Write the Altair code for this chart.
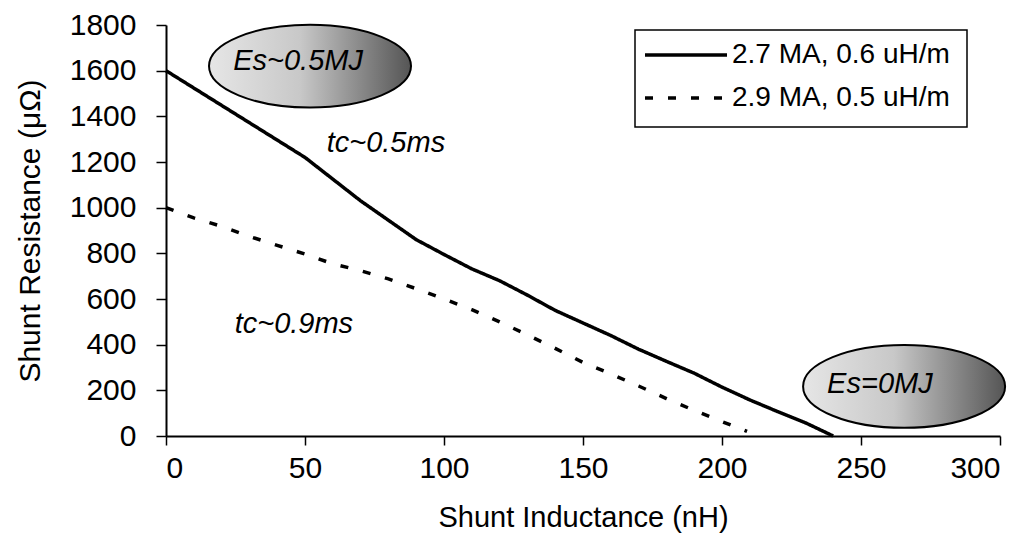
import altair as alt
import pandas as pd

# ---- data ----
series_names = ["2.7 MA, 0.6 uH/m", "2.9 MA, 0.5 uH/m"]

inductance_a = [0, 50, 60, 70, 80, 90, 100, 110, 120, 130, 140, 150, 160, 170,
                180, 190, 200, 210, 220, 230, 240]
resistance_a = [1600, 1220, 1125, 1030, 945, 860, 795, 732, 680, 617, 550, 495,
                440, 380, 327, 275, 214, 158, 107, 58, 0]

inductance_b = [0, 10, 20, 30, 40, 50, 60, 70, 80, 90, 100, 110, 120, 130, 140,
                150, 160, 170, 180, 190, 200, 209]
resistance_b = [1000, 955, 918, 874, 835, 797, 754, 724, 688, 645, 600, 553, 500,
                443, 384, 322, 272, 219, 164, 112, 63, 20]

x_ticks = [0, 50, 100, 150, 200, 250, 300]
y_ticks = [0, 200, 400, 600, 800, 1000, 1200, 1400, 1600, 1800]

ellipse_x = [51.8, 265.5]
ellipse_y = [1620, 217]
ellipse_text = ["Es~0.5MJ", "Es=0MJ"]
ellipse_text_x = [47.5, 256.8]
ellipse_text_y = [1643, 228]

note_text = ["tc~0.5ms", "tc~0.9ms"]
note_x = [79.1, 46.0]
note_y = [1283, 490]

FONT = "Liberation Sans"

rows = []
for xv, yv in zip(inductance_a, resistance_a):
    rows.append({"L": xv, "R": yv, "series": series_names[0]})
for xv, yv in zip(inductance_b, resistance_b):
    rows.append({"L": xv, "R": yv, "series": series_names[1]})
lines_df = pd.DataFrame(rows)

x_scale = alt.Scale(domain=[0, 300], nice=False, zero=False)
y_scale = alt.Scale(domain=[0, 1800], nice=False, zero=False)
dash_scale = alt.Scale(domain=series_names, range=[[1, 0], [8, 15]])

x_axis = alt.Axis(values=x_ticks, title="Shunt Inductance (nH)", grid=False,
                  labelFontSize=30, titleFontSize=29, tickSize=9, labelPadding=8,
                  titlePadding=20, format="d")
y_axis = alt.Axis(values=y_ticks, title="Shunt Resistance (\u03bc\u03a9)", grid=False,
                  labelFontSize=30, titleFontSize=30, tickSize=10, labelPadding=20,
                  titlePadding=24, format="d")

lines = alt.Chart(lines_df).mark_line(color="black", strokeWidth=3.5, strokeCap="butt").encode(
    x=alt.X("L:Q", scale=x_scale, axis=x_axis),
    y=alt.Y("R:Q", scale=y_scale, axis=y_axis),
    strokeDash=alt.StrokeDash("series:N", scale=dash_scale, legend=None),
)

ell_df = pd.DataFrame({"x": ellipse_x, "y": ellipse_y})
gradient = alt.LinearGradient(
    gradient="linear",
    stops=[
        alt.GradientStop(color="#e6e6e6", offset=0),
        alt.GradientStop(color="#c8c8c8", offset=0.45),
        alt.GradientStop(color="#555555", offset=1),
    ],
    x1=0, x2=1, y1=0, y2=0,
)
ellipse_path = "M -1 0 A 1 0.41 0 1 1 1 0 A 1 0.41 0 1 1 -1 0 Z"
ellipses = alt.Chart(ell_df).mark_point(
    shape=ellipse_path, size=202 * 202, filled=True, fill=gradient,
    stroke="black", strokeWidth=2, opacity=1, fillOpacity=1,
).encode(x=alt.X("x:Q", scale=x_scale), y=alt.Y("y:Q", scale=y_scale))

etext_df = pd.DataFrame({"x": ellipse_text_x, "y": ellipse_text_y, "t": ellipse_text})
etext = alt.Chart(etext_df).mark_text(
    font=FONT, fontStyle="italic", fontSize=29, color="black",
    align="center", baseline="middle",
).encode(x=alt.X("x:Q", scale=x_scale), y=alt.Y("y:Q", scale=y_scale), text="t:N")

note_df = pd.DataFrame({"x": note_x, "y": note_y, "t": note_text})
notes = alt.Chart(note_df).mark_text(
    font=FONT, fontStyle="italic", fontSize=29, color="black",
    align="center", baseline="middle",
).encode(x=alt.X("x:Q", scale=x_scale), y=alt.Y("y:Q", scale=y_scale), text="t:N")

# ---- hand-drawn legend box (positions in pixels of the plot area) ----
legend_df = pd.DataFrame({"name": series_names})
legend_box = alt.Chart(legend_df.head(1)).mark_rect(
    fill="white", stroke="black", strokeWidth=1.5
).encode(x=alt.value(469), x2=alt.value(801), y=alt.value(5), y2=alt.value(102))

legend_items = []
for i, (name, yy) in enumerate(zip(series_names, [30, 73])):
    sub = legend_df[legend_df["name"] == name]
    legend_items.append(
        alt.Chart(sub).mark_rule(color="black", strokeWidth=3.5, strokeCap="butt").encode(
            x=alt.value(479), x2=alt.value(561), y=alt.value(yy),
            strokeDash=alt.StrokeDash("name:N", scale=dash_scale, legend=None),
        )
    )
    legend_items.append(
        alt.Chart(sub).mark_text(
            font=FONT, fontSize=28, color="black", align="left", baseline="middle"
        ).encode(x=alt.value(566), y=alt.value(yy), text="name:N")
    )

chart = alt.layer(lines, ellipses, etext, notes, legend_box, *legend_items).properties(
    width=834, height=411,
    autosize=alt.AutoSizeParams(type="none"),
    padding={"left": 158, "top": 17, "right": 15, "bottom": 115},
    background="white",
).configure_view(stroke=None).configure_axis(
    labelFont=FONT, titleFont=FONT, labelColor="black", titleColor="black",
    domainColor="black", tickColor="black", domainWidth=2, tickWidth=1.5,
    titleFontWeight="normal",
)

chart.save("out.html", embed_options={"renderer": "svg", "actions": False})
